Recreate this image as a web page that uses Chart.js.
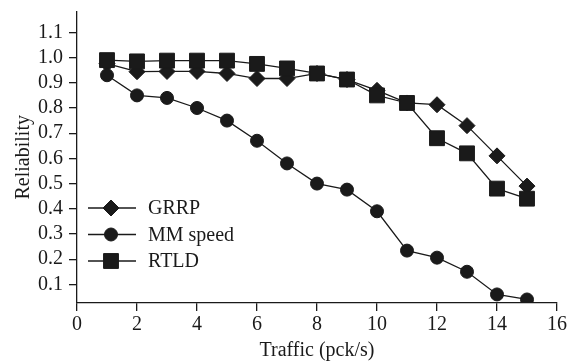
<!DOCTYPE html>
<html>
<head>
<meta charset="utf-8">
<script src="https://cdn.jsdelivr.net/npm/chart.js@4"></script>
<style>
  html, body { margin: 0; padding: 0; background: #fff; }
  #wrap { width: 573px; height: 364px; }
</style>
</head>
<body>
<div id="wrap"><canvas id="chart" width="573" height="364"></canvas></div>
<script>
// Données
const traffic = [1, 2, 3, 4, 5, 6, 7, 8, 9, 10, 11, 12, 13, 14, 15];
const grrp = [0.976, 0.944, 0.945, 0.945, 0.937, 0.917, 0.917, 0.937, 0.913, 0.87, 0.82, 0.813, 0.73, 0.61, 0.49];
const mmSpeed = [0.93, 0.85, 0.84, 0.80, 0.75, 0.67, 0.58, 0.50, 0.476, 0.39, 0.234, 0.206, 0.15, 0.06, 0.04];
const rtld = [0.99, 0.985, 0.988, 0.988, 0.988, 0.975, 0.957, 0.937, 0.913, 0.85, 0.82, 0.68, 0.62, 0.48, 0.44];
const yTicks = [0.1, 0.2, 0.3, 0.4, 0.5, 0.6, 0.7, 0.8, 0.9, 1.0, 1.1];
const xTicks = [0, 2, 4, 6, 8, 10, 12, 14, 16];

const ink = '#1a1a1a';
const serif = "'Liberation Serif', 'Times New Roman', serif";

function toPoints(values) {
    return traffic.map((x, i) => ({ x: x, y: values[i] }));
}

function makeSet(label, values, style, radius, order) {
    return {
        label: label,
        data: toPoints(values),
        borderColor: ink,
        backgroundColor: ink,
        borderWidth: 1.3,
        pointStyle: style,
        pointRadius: radius,
        pointHoverRadius: radius,
        pointBackgroundColor: ink,
        pointBorderColor: ink,
        pointBorderWidth: 1,
        tension: 0,
        order: order
    };
}

// Légende dessinée à la main : trait + symbole, comme sur l'original
const lineLegend = {
    id: 'lineLegend',
    afterDraw(chart) {
        const ctx = chart.ctx;
        const rows = [208, 234.5, 261];
        ctx.save();
        chart.data.datasets.forEach((ds, i) => {
            const y = rows[i];
            ctx.strokeStyle = ink;
            ctx.lineWidth = 1.3;
            ctx.beginPath();
            ctx.moveTo(88, y);
            ctx.lineTo(136, y);
            ctx.stroke();
            ctx.fillStyle = ink;
            ctx.strokeStyle = ink;
            ctx.lineWidth = 1;
            Chart.helpers.drawPoint(ctx, { pointStyle: ds.pointStyle, radius: ds.pointRadius, rotation: 0, borderWidth: 1 }, 111, y);
            ctx.fillStyle = ink;
            ctx.font = '20px ' + serif;
            ctx.textBaseline = 'middle';
            ctx.textAlign = 'left';
            ctx.fillText(ds.label, 148, y + 1);
        });
        ctx.restore();
    }
};

const ctx = document.getElementById('chart').getContext('2d');
new Chart(ctx, {
    type: 'line',
    data: {
        datasets: [
            makeSet('GRRP', grrp, 'rectRot', 8, 2),
            makeSet('MM speed', mmSpeed, 'circle', 6.5, 1),
            makeSet('RTLD', rtld, 'rect', 10.5, 0)
        ]
    },
    options: {
        responsive: false,
        animation: false,
        layout: { padding: { left: 0, top: 10, right: 16, bottom: 0 } },
        plugins: {
            legend: { display: false },
            tooltip: { enabled: false }
        },
        scales: {
            x: {
                type: 'linear',
                min: 0,
                max: 16,
                afterBuildTicks: s => { s.ticks = xTicks.map(v => ({ value: v })); },
                afterFit: s => { s.height = 61; s.paddingLeft = 0; s.paddingRight = 0; },
                grid: { drawOnChartArea: false, color: ink, tickLength: 8, lineWidth: 1.3 },
                border: { color: ink, width: 1.3 },
                ticks: { color: ink, font: { family: serif, size: 20 }, padding: 2, maxRotation: 0 },
                title: { display: true, text: 'Traffic (pck/s)', color: ink, font: { family: serif, size: 20 }, padding: { top: 0, bottom: 1 } }
            },
            y: {
                type: 'linear',
                min: 0.026,
                max: 1.183,
                afterBuildTicks: s => { s.ticks = yTicks.map(v => ({ value: v })); },
                afterFit: s => { s.width = 77; s.paddingTop = 0; s.paddingBottom = 0; },
                grid: { drawOnChartArea: false, color: ink, tickLength: 8, lineWidth: 1.3 },
                border: { color: ink, width: 1.3 },
                ticks: { color: ink, font: { family: serif, size: 20 }, padding: 6, callback: v => Number(v).toFixed(1) },
                title: { display: true, text: 'Reliability', color: ink, font: { family: serif, size: 20 }, padding: { top: 12, bottom: 0 } }
            }
        }
    },
    plugins: [lineLegend]
});
</script>
</body>
</html>
